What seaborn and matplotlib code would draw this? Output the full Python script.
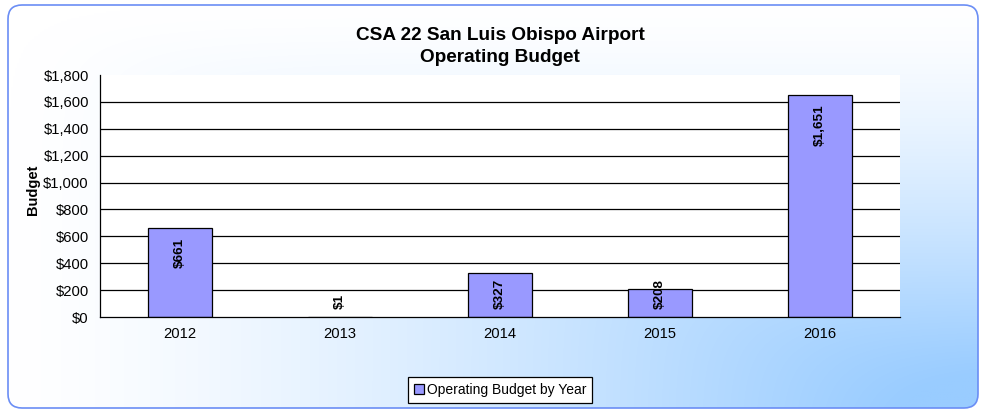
import numpy as np
import matplotlib
matplotlib.use("Agg")
import matplotlib.pyplot as plt
from matplotlib.patches import FancyBboxPatch
from matplotlib.ticker import FixedLocator, FuncFormatter
import seaborn as sns

years = ["2012", "2013", "2014", "2015", "2016"]
budget = [661, 1, 327, 208, 1651]
y_ticks = [0, 200, 400, 600, 800, 1000, 1200, 1400, 1600, 1800]

sns.set_style("white")
plt.rcParams["font.family"] = ["Liberation Sans", "DejaVu Sans"]
plt.rcParams["text.color"] = "black"
plt.rcParams["xtick.color"] = "black"
plt.rcParams["ytick.color"] = "black"
plt.rcParams["axes.labelcolor"] = "black"

W, H = 983, 411
fig = plt.figure(figsize=(W / 100, H / 100), dpi=100)

# "from corner" gradient background with rounded border
bg = fig.add_axes([0, 0, 1, 1], zorder=-10)
bg.set_xlim(0, W)
bg.set_ylim(H, 0)
bg.axis("off")
u = np.linspace(0, 1, 500)[None, :]
v = np.linspace(0, 1, 250)[:, None]
k = 14
m = -np.log(np.exp(-k * u) + np.exp(-k * v)) / k
t = np.clip(m / 0.9, 0, 1) ** 1.4
white = np.array([1.0, 1.0, 1.0])
blue = np.array([153, 204, 255]) / 255
img = white[None, None, :] * (1 - t[..., None]) + blue[None, None, :] * t[..., None]
im = bg.imshow(img, extent=[8, 978, 408, 5], aspect="auto", interpolation="bilinear")
box = FancyBboxPatch((8, 5), 970, 403, boxstyle="round,pad=0,rounding_size=14",
                     facecolor="none", edgecolor="#6b8ef5", linewidth=1.2)
bg.add_patch(box)
im.set_clip_path(box)

ax = fig.add_axes([100 / W, 1 - 317 / H, 800 / W, 242 / H])
ax.set_facecolor("white")

sns.barplot(x=years, y=budget, color="#9999FF", edgecolor="black", linewidth=0.9,
            width=0.4, saturation=1, ax=ax)

ax.set_ylim(0, 1800)
ax.set_xlim(-0.5, 4.5)
ax.yaxis.set_major_locator(FixedLocator(y_ticks))
ax.yaxis.set_major_formatter(FuncFormatter(lambda val, p: f"${val:,.0f}"))
for yt in y_ticks[1:-1]:
    ax.axhline(yt, color="black", linewidth=0.9, zorder=0)

for s in ["top", "right"]:
    ax.spines[s].set_visible(False)
for s in ["left", "bottom"]:
    ax.spines[s].set_color("black")
    ax.spines[s].set_linewidth(0.9)

ax.tick_params(axis="y", which="major", direction="out", length=5, width=0.9,
               color="black", labelsize=10.6, pad=3)
ax.tick_params(axis="x", which="major", length=0, labelsize=10.6, pad=7)
ax.set_xticks(np.arange(-0.5, 5, 1), minor=True)
ax.tick_params(axis="x", which="minor", direction="out", length=4, width=0.9, color="black")
ax.set_xlabel("")
ax.set_ylabel("Budget", fontsize=10.5, fontweight="bold")
ax.yaxis.set_label_coords(-0.075, 0.525)

for i, val in enumerate(budget):
    if val > 400:
        ax.text(i, val - 70, f"${val:,}", rotation=90, ha="center", va="top",
                fontsize=9.7, fontweight="bold")
    else:
        ax.text(i, 60, f"${val:,}", rotation=90, ha="center", va="bottom",
                fontsize=9.7, fontweight="bold")

ax.set_title("CSA 22 San Luis Obispo Airport\nOperating Budget", fontsize=13.7,
             fontweight="bold", pad=9, linespacing=1.4)

leg = fig.legend(handles=ax.patches[:1], labels=["Operating Budget by Year"],
                 loc="center", bbox_to_anchor=(500 / W, 1 - 390 / H), fontsize=10,
                 frameon=True, fancybox=False, edgecolor="black", framealpha=1,
                 handlelength=0.7, handleheight=0.7, handletextpad=0.2,
                 borderpad=0.45, borderaxespad=0)
leg.get_frame().set_linewidth(0.9)

fig.savefig("out.png", dpi=100)
